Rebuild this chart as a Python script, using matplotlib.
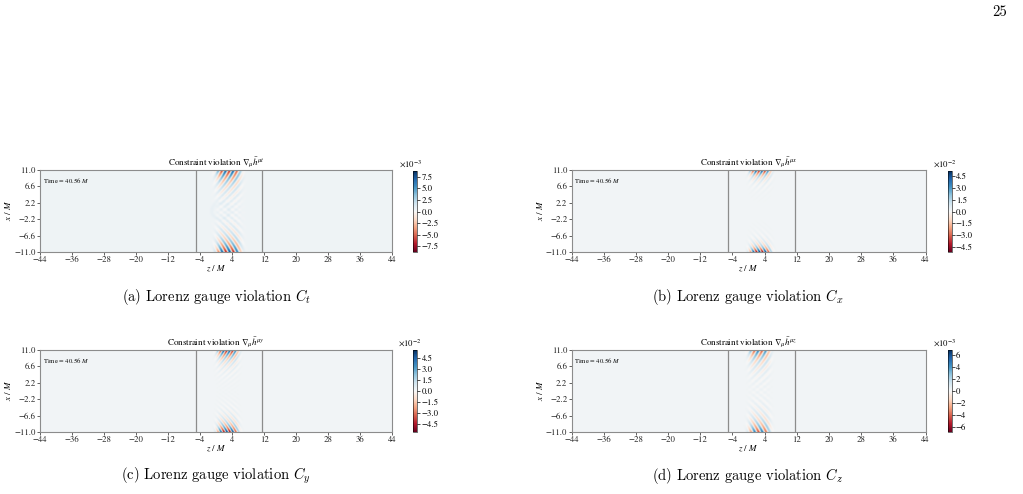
import numpy as np
import matplotlib
matplotlib.use("Agg")
import matplotlib.pyplot as plt

# ---------------- data ----------------
z_ticks = [-44, -36, -28, -20, -12, -4, 4, 12, 20, 28, 36, 44]
x_ticks = [11.0, 6.6, 2.2, -2.2, -6.6, -11.0]
components = [r"t", r"x", r"y", r"z"]
captions = [r"(a) Lorenz gauge violation $C_t$", r"(b) Lorenz gauge violation $C_x$",
            r"(c) Lorenz gauge violation $C_y$", r"(d) Lorenz gauge violation $C_z$"]
time_label = "40.56"
cbar_max = [8.7e-3, 5.1e-2, 5.6e-2, 6.9e-3]
cbar_exp = [-3, -2, -2, -3]
cbar_ticks = [[-7.5, -5.0, -2.5, 0.0, 2.5, 5.0, 7.5],
              [-4.5, -3.0, -1.5, 0.0, 1.5, 3.0, 4.5],
              [-4.5, -3.0, -1.5, 0.0, 1.5, 3.0, 4.5],
              [-6, -4, -2, 0, 2, 4, 6]]
cbar_fmt = ["%.1f", "%.1f", "%.1f", "%d"]
refine_lines = [-5.0, 11.5]          # z positions of grey box lines
# wave packets at the x boundaries (fractions of colour range)
wave_amp = [0.85, 1.0, 0.95, 0.7]
wave_depth = [3.2, 1.3, 2.0, 2.8]     # decay depth from edge (M)
wave_center = [3.0, 2.8, 2.8, 2.6]    # z centre of packet
wave_width = [3.0, 2.6, 2.6, 2.6]     # z half width of packet
wave_length = [1.9, 1.5, 1.5, 1.9]
wave_tilt = [0.45, 0.5, 0.5, 0.45]
background = [0.04, 0.03, 0.03, 0.03]

# ---------------- figure ----------------
W, H = 1023, 494
fig = plt.figure(figsize=(W / 100, H / 100), dpi=100)
plt.rcParams['mathtext.fontset'] = 'stix'

ax_px = [(40, 170, 392, 252), (571.5, 170, 925.5, 252),
         (40, 350, 392, 432), (571.5, 350, 925.5, 432)]
cb_px = [(413.3, 171, 417.3, 252), (947.7, 171, 951.7, 252),
         (413.3, 350, 417.3, 432), (947.7, 350, 951.7, 432)]
cap_px = [(216, 297), (748, 297), (216, 476), (748, 476)]


def rect(p):
    l, t, r, b = p
    return [l / W, 1 - b / H, (r - l) / W, (b - t) / H]


z = np.linspace(-44, 44, 881)
x = np.linspace(-11, 11, 221)
Z, X = np.meshgrid(z, x)

tick_font = dict(family='STIXGeneral', size=6.3)

for i in range(4):
    vmax = cbar_max[i]
    field = np.full_like(Z, background[i])
    envz = np.exp(-((Z - wave_center[i]) / wave_width[i]) ** 4)
    k = 2 * np.pi / wave_length[i]
    for edge, sgn in ((11.0, 1.0), (-11.0, -1.0)):
        d = np.abs(edge - X)
        envx = np.exp(-d / wave_depth[i])
        phase = k * (Z + wave_tilt[i] * d * (1 + 0.08 * d))
        field += wave_amp[i] * sgn * envz * envx * np.sin(phase)
    if i == 0:
        r = np.hypot(Z - 1.0, X)
        field += 0.035 * np.exp(-((r - 2.2) / 0.5) ** 2)
    field *= vmax

    ax = fig.add_axes(rect(ax_px[i]))
    im = ax.imshow(field, extent=[-44, 44, -11, 11], origin='lower', aspect='auto',
                   cmap='RdBu', vmin=-vmax, vmax=vmax, interpolation='bilinear')
    for zl in refine_lines:
        ax.axvline(zl, color='#8c8c8c', lw=0.9)
    ax.set_xlim(-44, 44)
    ax.set_ylim(-11, 11)
    ax.set_xticks(z_ticks)
    ax.set_xticklabels([("\u2212%d" % -t) if t < 0 else "%d" % t for t in z_ticks], **tick_font)
    ax.set_yticks(x_ticks)
    ax.set_yticklabels([("\u2212%.1f" % -t) if t < 0 else "%.1f" % t for t in x_ticks], **tick_font)
    ax.tick_params(length=2, width=0.5, pad=1, colors='#222222')
    for s in ax.spines.values():
        s.set_color('#8c8c8c')
        s.set_linewidth(0.8)
    ax.set_xlabel(r"$z\ /\ M$", fontsize=6.5, labelpad=0)
    ax.set_ylabel(r"$x\ /\ M$", fontsize=6.5, labelpad=1)
    ax.set_title(r"Constraint violation $\nabla_\mu\bar{h}^{\mu %s}$" % components[i],
                 fontsize=6.5, family='STIXGeneral', pad=1.5)
    ax.text(0.008, 0.93, r"Time = %s $M$" % time_label, transform=ax.transAxes,
            fontsize=4.8, family='STIXGeneral', va='top', ha='left')

    cax = fig.add_axes(rect(cb_px[i]))
    cb = fig.colorbar(im, cax=cax)
    cb.set_ticks([t * 10 ** cbar_exp[i] for t in cbar_ticks[i]])
    cb.set_ticklabels([(("\u2212" + cbar_fmt[i] % -t) if t < 0 else cbar_fmt[i] % t)
                       for t in cbar_ticks[i]])
    cb.ax.tick_params(labelsize=6.3, length=2, width=0.5, pad=1)
    for lab in cb.ax.get_yticklabels():
        lab.set_family('STIXGeneral')
    cb.outline.set_linewidth(0.4)
    l, t, r, b = cb_px[i]
    fig.text((l - 3) / W, 1 - (t - 2) / H, r"$\times10^{%d}$" % cbar_exp[i],
             ha='center', va='bottom', fontsize=6.3)

    cx, cy = cap_px[i]
    fig.text(cx / W, 1 - cy / H, captions[i], ha='center', va='center',
             fontsize=10.5, family='cmr10', math_fontfamily='cm')

fig.text(1000 / W, 1 - 12 / H, "25", ha='center', va='center', fontsize=10.5, family='cmr10')

fig.savefig("out.png", dpi=100)
